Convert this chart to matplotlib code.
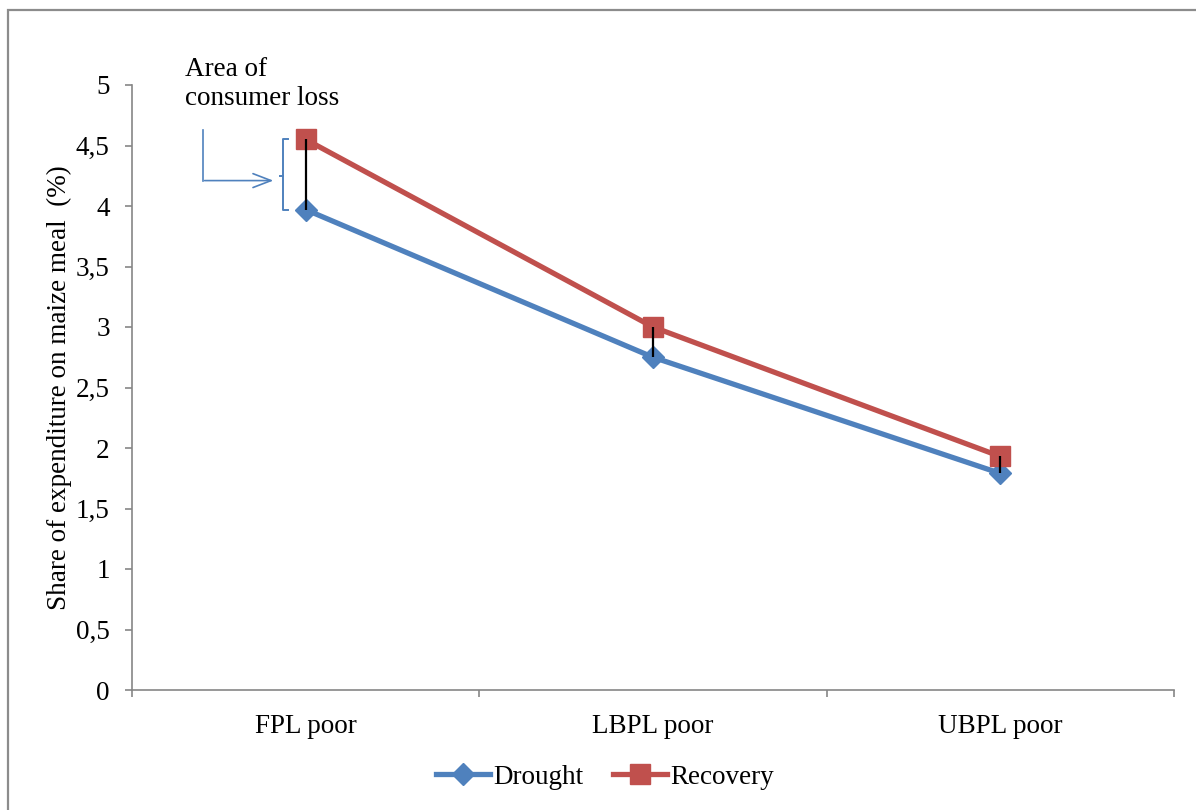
import matplotlib.pyplot as plt
from matplotlib.patches import Rectangle

# Share of expenditure on maize meal by poverty line group
groups = ['FPL poor', 'LBPL poor', 'UBPL poor']
drought = [3.97, 2.75, 1.79]
recovery = [4.55, 3.00, 1.93]
yticks = [0, 0.5, 1, 1.5, 2, 2.5, 3, 3.5, 4, 4.5, 5]
ytick_labels = ['0', '0,5', '1', '1,5', '2', '2,5', '3', '3,5', '4', '4,5', '5']

blue = '#4f81bd'
red = '#c0504d'
grey = '#868686'
fs = 19.5

plt.rcParams['font.family'] = ['Liberation Serif', 'DejaVu Serif']

fig = plt.figure(figsize=(11.96, 8.10), dpi=100)
ax = fig.add_axes([132 / 1196, 120 / 810, 1042 / 1196, 605 / 810])

# outer chart frame
fig.patches.append(Rectangle((8 / 1196, -0.1), 1.2, 800 / 810 + 0.1,
                             transform=fig.transFigure, fill=False,
                             edgecolor='#8c8c8c', linewidth=1.6))

x = list(range(len(groups)))
ax.plot(x, drought, color=blue, linewidth=3.8, marker='D', markersize=11,
        label='Drought', zorder=3)
ax.plot(x, recovery, color=red, linewidth=3.8, marker='s', markersize=14,
        label='Recovery', zorder=3)

# gap between the two series
ax.vlines(x, drought, recovery, color='black', linewidth=1.6, zorder=4)

ax.set_xlim(-0.5, 2.5)
ax.set_ylim(0, 5)
ax.set_yticks(yticks)
ax.set_yticklabels(ytick_labels)
ax.set_xticks([-0.5, 0.5, 1.5, 2.5])
ax.set_xticklabels([])
ax.set_xticks(x, minor=True)
ax.set_xticklabels(groups, minor=True)

for side in ['top', 'right']:
    ax.spines[side].set_visible(False)
for side in ['left', 'bottom']:
    ax.spines[side].set_color(grey)
    ax.spines[side].set_linewidth(1.2)
ax.tick_params(axis='both', which='major', color=grey, width=1.2, length=5,
               direction='out', labelsize=fs, pad=11)
ax.tick_params(axis='x', which='minor', length=0, labelsize=fs, pad=17)

ax.set_ylabel('Share of expenditure on maize meal  (%)', fontsize=fs)
ax.yaxis.set_label_coords(-0.058, 0.5)

# callout for the consumer loss area
ax.text(-0.346, 5.23, 'Area of\nconsumer loss', fontsize=fs, va='top',
        ha='left', linespacing=1.2)
ax.plot([-0.297, -0.297], [4.63, 4.21], color=blue, linewidth=1.2, clip_on=False)
ax.annotate('', xy=(-0.085, 4.21), xytext=(-0.299, 4.21),
            arrowprops=dict(arrowstyle='->,head_length=1.3,head_width=0.5',
                            color=blue, linewidth=1.2))
ax.plot([-0.052, -0.064, -0.064, -0.052],
        [recovery[0], recovery[0], drought[0], drought[0]],
        color=blue, linewidth=1.4, clip_on=False)
ax.plot([-0.075, -0.064], [4.25, 4.25], color=blue, linewidth=1.4, clip_on=False)

fig.legend(loc='center', bbox_to_anchor=(605 / 1196, 1 - 777 / 810), ncol=2,
           frameon=False, fontsize=fs, handlelength=2.0, handletextpad=0.1,
           columnspacing=1.1)

fig.savefig('out.png', dpi=100)
